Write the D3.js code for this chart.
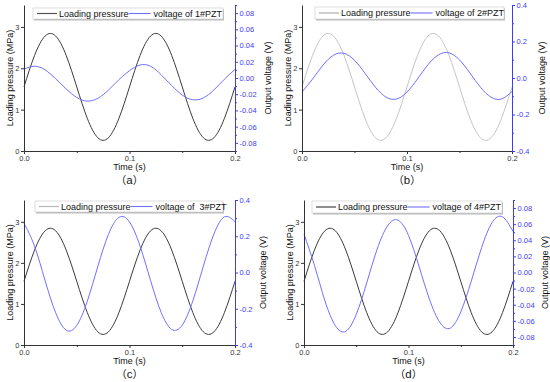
<!DOCTYPE html>
<html>
<head>
<meta charset="utf-8">
<script src="https://cdn.jsdelivr.net/npm/d3@7"></script>
<style>
  body { margin: 0; background: #fff; }
  svg { display: block; font-family: "Liberation Sans", Arial, sans-serif; }
</style>
</head>
<body>
<svg id="chart" width="550" height="382"></svg>
<script>
// ---- Data ----
const time = [0, 0.01, 0.02, 0.03, 0.04, 0.05, 0.06, 0.07, 0.08, 0.09, 0.1,
  0.11, 0.12, 0.13, 0.14, 0.15, 0.16, 0.17, 0.18, 0.19, 0.2];
const pressure = [1.55, 2.31, 2.78, 2.78, 2.31, 1.55, 0.79, 0.32, 0.32, 0.79, 1.55,
  2.31, 2.78, 2.78, 2.31, 1.55, 0.79, 0.32, 0.32, 0.79, 1.55];
const volt1 = [0.011, 0.0145, 0.010, -0.001, -0.0135, -0.024, -0.0285, -0.025, -0.015, -0.002, 0.009,
  0.016, 0.0145, 0.004, -0.0093, -0.021, -0.0268, -0.0245, -0.0147, -0.0015, 0.0105];
const volt2 = [-0.077, -0.006, 0.071, 0.125, 0.135, 0.097, 0.026, -0.051, -0.105, -0.115, -0.077,
  -0.005, 0.073, 0.127, 0.138, 0.099, 0.027, -0.051, -0.105, -0.115, -0.074];
const volt3 = [0.272, 0.145, -0.045, -0.222, -0.318, -0.292, -0.158, 0.034, 0.21, 0.304, 0.279,
  0.146, -0.045, -0.22, -0.314, -0.29, -0.157, 0.035, 0.212, 0.307, 0.28];
const volt4 = [0.0475, 0.0089, -0.035, -0.066, -0.073, -0.052, -0.013, 0.029, 0.058, 0.065, 0.046,
  0.008, -0.033, -0.062, -0.069, -0.049, -0.011, 0.031, 0.062, 0.069, 0.051];

const timeTicks = [0, 0.1, 0.2];
const timeMinor = [0.05, 0.15];
const pressureTicks = [0, 1, 2, 3];
const smallVoltTicks = [-0.08, -0.06, -0.04, -0.02, 0, 0.02, 0.04, 0.06, 0.08];
const smallVoltMinor = [-0.09, -0.07, -0.05, -0.03, -0.01, 0.01, 0.03, 0.05, 0.07, 0.09];
const bigVoltTicks = [-0.4, -0.2, 0, 0.2, 0.4];
const bigVoltMinor = [-0.3, -0.1, 0.1, 0.3];

const pressureLabel = "Loading pressure";
const voltLabels = ["voltage of 1#PZT", "voltage of 2#PZT", "voltage of  3#PZT", "voltage of 4#PZT"];
const panelLetters = ["a", "b", "c", "d"];

// ---- Panel layout ----
const BLUE = "#3c3cff";
const CURVE_BLUE = "#7070ff";
const panels = [
  { left: 24, right: 235, top: 5, bottom: 151, volt: volt1, vDomain: [-0.09, 0.09],
    vTicks: smallVoltTicks, vMinor: smallVoltMinor, fmt: 2, pColor: "#3a3a3a", legColor: "#555",
    leg: [33, 223, 8, 19], rTitle: 36 },
  { left: 302, right: 512, top: 5, bottom: 151, volt: volt2, vDomain: [-0.4, 0.4],
    vTicks: bigVoltTicks, vMinor: bigVoltMinor, fmt: 1, pColor: "#c4c4c4", legColor: "#b0b0b0",
    leg: [315, 504, 7, 19], rTitle: 33 },
  { left: 24, right: 235, top: 200, bottom: 345, volt: volt3, vDomain: [-0.4, 0.4],
    vTicks: bigVoltTicks, vMinor: bigVoltMinor, fmt: 1, pColor: "#3a3a3a", legColor: "#b8b8b8",
    leg: [35, 223, 201, 212], rTitle: 31 },
  { left: 304, right: 513, top: 200, bottom: 345, volt: volt4, vDomain: [-0.09, 0.09],
    vTicks: smallVoltTicks, vMinor: smallVoltMinor, fmt: 2, pColor: "#3a3a3a", legColor: "#444",
    leg: [312, 502, 201, 213], rTitle: 35 }
];

const svg = d3.select("#chart");

function styleAxis(g, color) {
  g.select(".domain").attr("stroke", color).attr("stroke-width", 1);
  g.selectAll(".tick line").attr("stroke", color).attr("stroke-width", 1);
  g.selectAll(".tick text").attr("fill", color).attr("font-size", 7.5)
    .attr("font-family", "'Liberation Sans', Arial, sans-serif");
}

panels.forEach((p, i) => {
  const x = d3.scaleLinear().domain([0, 0.2]).range([p.left, p.right]);
  const yL = d3.scaleLinear().domain([0, 3.53]).range([p.bottom, p.top]);
  const yR = d3.scaleLinear().domain(p.vDomain).range([p.bottom, p.top]);
  const g = svg.append("g");

  // curves
  const lineP = d3.line().x((d, j) => x(time[j])).y(d => yL(d)).curve(d3.curveNatural);
  const lineV = d3.line().x((d, j) => x(time[j])).y(d => yR(d)).curve(d3.curveNatural);
  g.append("path").attr("d", lineP(pressure)).attr("fill", "none")
    .attr("stroke", p.pColor).attr("stroke-width", 1);
  g.append("path").attr("d", lineV(p.volt)).attr("fill", "none")
    .attr("stroke", CURVE_BLUE).attr("stroke-width", 1);

  // x axis
  g.append("g").attr("transform", `translate(0,${p.bottom})`)
    .call(d3.axisBottom(x).tickValues(timeTicks).tickFormat(d3.format(".1f"))
      .tickSize(3).tickSizeOuter(0).tickPadding(2))
    .call(a => styleAxis(a, "#333"));
  g.append("g").attr("transform", `translate(0,${p.bottom})`)
    .call(d3.axisBottom(x).tickValues(timeMinor).tickFormat("").tickSize(2))
    .call(a => { a.select(".domain").remove(); a.selectAll("line").attr("stroke", "#333"); });

  // left axis
  g.append("g").attr("transform", `translate(${p.left},0)`)
    .call(d3.axisLeft(yL).tickValues(pressureTicks).tickFormat(d3.format("d"))
      .tickSize(3).tickSizeOuter(0).tickPadding(1.5))
    .call(a => styleAxis(a, "#333"));

  // right axis
  g.append("g").attr("transform", `translate(${p.right},0)`)
    .call(d3.axisRight(yR).tickValues(p.vTicks).tickFormat(d => d.toFixed(p.fmt))
      .tickSize(3).tickSizeOuter(0).tickPadding(1.5))
    .call(a => styleAxis(a, BLUE));
  g.append("g").attr("transform", `translate(${p.right},0)`)
    .call(d3.axisRight(yR).tickValues(p.vMinor).tickFormat("").tickSize(2))
    .call(a => { a.select(".domain").remove(); a.selectAll("line").attr("stroke", BLUE); });

  // axis titles
  const midY = (p.top + p.bottom) / 2;
  g.append("text").attr("transform", `translate(${p.left - 11},${midY}) rotate(-90)`)
    .attr("text-anchor", "middle").attr("font-size", 9).attr("fill", "#111")
    .text("Loading pressure (MPa)");
  g.append("text").attr("transform", `translate(${p.right + p.rTitle},${midY}) rotate(-90)`)
    .attr("text-anchor", "middle").attr("font-size", 9).attr("fill", "#111")
    .text("Output voltage (V)");
  const midX = (p.left + p.right) / 2;
  g.append("text").attr("x", midX).attr("y", p.bottom + 19)
    .attr("text-anchor", "middle").attr("font-size", 9).attr("fill", "#111")
    .text("Time (s)");

  // panel label: fullwidth parens around a sans letter
  const pl = g.append("text").attr("x", midX).attr("y", p.bottom + 32.5)
    .attr("text-anchor", "middle").attr("font-size", 10.5).attr("fill", "#111");
  pl.append("tspan").attr("font-family", "'Noto Sans CJK SC', sans-serif").text("（");
  pl.append("tspan").attr("font-family", "'Liberation Sans', Arial, sans-serif")
    .attr("font-size", 11.5).text(panelLetters[i]);
  pl.append("tspan").attr("font-family", "'Noto Sans CJK SC', sans-serif").text("）");

  // legend
  const [lx0, lx1, ly0, ly1] = p.leg;
  const lg = g.append("g");
  lg.append("rect").attr("x", lx0 + 1).attr("y", ly0 + 1.5)
    .attr("width", lx1 - lx0).attr("height", ly1 - ly0).attr("fill", "#bbb");
  lg.append("rect").attr("x", lx0).attr("y", ly0)
    .attr("width", lx1 - lx0).attr("height", ly1 - ly0)
    .attr("fill", "#fff").attr("stroke", "#c8c8c8").attr("stroke-width", 0.6);
  const ly = (ly0 + ly1) / 2;
  lg.append("line").attr("x1", lx0 + 4).attr("x2", lx0 + 24).attr("y1", ly).attr("y2", ly)
    .attr("stroke", p.legColor).attr("stroke-width", 1.2);
  const t1 = lg.append("text").attr("x", lx0 + 26).attr("y", ly + 3.3)
    .attr("font-size", 9).attr("fill", "#111").text(pressureLabel);
  const e1 = lx0 + 26 + t1.node().getComputedTextLength();
  lg.append("line").attr("x1", e1).attr("x2", e1 + 22).attr("y1", ly).attr("y2", ly)
    .attr("stroke", CURVE_BLUE).attr("stroke-width", 1.1);
  lg.append("text").attr("x", e1 + 25).attr("y", ly + 3.3)
    .attr("font-size", 9).attr("fill", "#111").attr("xml:space", "preserve")
    .style("white-space", "pre").text(voltLabels[i]);
});
</script>
</body>
</html>
